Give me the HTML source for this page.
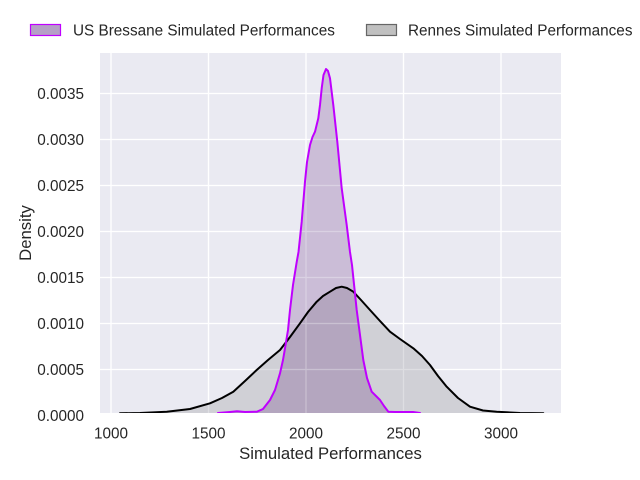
<!DOCTYPE html>
<html>
<head>
<meta charset="utf-8">
<style>
html,body{margin:0;padding:0;background:#ffffff;}
svg{display:block;}
text{font-family:"Liberation Sans",Arial,sans-serif;fill:#262626;}
</style>
</head>
<body>
<svg width="640" height="480" viewBox="0 0 640 480" xmlns="http://www.w3.org/2000/svg">
<defs>
<clipPath id="ax"><rect x="100" y="53" width="461" height="360"/></clipPath>
<clipPath id="grayclip">
<polygon points="120,413.3 140,413 166.7,411.7 190,409 210,403.3 222,398 233.3,391.7 245,381 256.7,370 268,360 280,350 290,337 300,323.3 308,312 316.7,301.7 323,296 330,291.7 336,288 341.7,286.7 347,288 353.3,291.7 361,300 370,310 380,321 390,331.7 400,339 413.3,348.3 422,356 430,365 438,376 446.7,386.7 458,398 470,406.7 483,410.5 496.7,411.7 520,413 543.3,413.3 543.3,413 120,413"/>
</clipPath>
</defs>
<!-- axes background -->
<rect x="100" y="53" width="461" height="360" fill="#eaeaf2"/>
<g clip-path="url(#ax)" stroke="#ffffff" stroke-width="1.3">
<line x1="111" y1="53" x2="111" y2="413"/>
<line x1="208.5" y1="53" x2="208.5" y2="413"/>
<line x1="306" y1="53" x2="306" y2="413"/>
<line x1="403.5" y1="53" x2="403.5" y2="413"/>
<line x1="501" y1="53" x2="501" y2="413"/>
<line x1="100" y1="369.5" x2="561" y2="369.5"/>
<line x1="100" y1="323.5" x2="561" y2="323.5"/>
<line x1="100" y1="277.5" x2="561" y2="277.5"/>
<line x1="100" y1="231.5" x2="561" y2="231.5"/>
<line x1="100" y1="185.5" x2="561" y2="185.5"/>
<line x1="100" y1="139.5" x2="561" y2="139.5"/>
<line x1="100" y1="93.5" x2="561" y2="93.5"/>
</g>
<g clip-path="url(#ax)">
<!-- Rennes fill -->
<polygon fill="#d0d0d6" points="120,413.3 140,413 166.7,411.7 190,409 210,403.3 222,398 233.3,391.7 245,381 256.7,370 268,360 280,350 290,337 300,323.3 308,312 316.7,301.7 323,296 330,291.7 336,288 341.7,286.7 347,288 353.3,291.7 361,300 370,310 380,321 390,331.7 400,339 413.3,348.3 422,356 430,365 438,376 446.7,386.7 458,398 470,406.7 483,410.5 496.7,411.7 520,413 543.3,413.3 543.3,413 120,413"/>
<!-- Bressane fill -->
<polygon id="pf" fill="#cbbdd7" points="218,413 230,412 237,411.3 245,412 257,411.7 263,409 270,400 275,390 280,373.3 283,360 285,348.3 288,330 290,310 293,285 296.7,262 298.5,252 301.7,221.7 305,181.7 307,162 310,145 312.5,137 315,131.7 318.3,118.3 320,105 321.7,88.3 323.5,75 326,69 328,71 330,78.3 333.3,105 337.3,141.7 341.7,188.3 346.7,225 350,252 352,265 356.7,310 360,335 363.3,360 367,378 371.7,391.7 376,396 380,400 384,406 388.3,411.7 395,412 405,412 413,412 420,413"/>
<g clip-path="url(#grayclip)">
<polygon fill="#b4a6bf" points="218,413 230,412 237,411.3 245,412 257,411.7 263,409 270,400 275,390 280,373.3 283,360 285,348.3 288,330 290,310 293,285 296.7,262 298.5,252 301.7,221.7 305,181.7 307,162 310,145 312.5,137 315,131.7 318.3,118.3 320,105 321.7,88.3 323.5,75 326,69 328,71 330,78.3 333.3,105 337.3,141.7 341.7,188.3 346.7,225 350,252 352,265 356.7,310 360,335 363.3,360 367,378 371.7,391.7 376,396 380,400 384,406 388.3,411.7 395,412 405,412 413,412 420,413"/>
</g>
<!-- faint grid through fills -->
<g stroke="#ffffff" stroke-width="1.2" opacity="0.3">
<line x1="111" y1="53" x2="111" y2="413"/>
<line x1="208.5" y1="53" x2="208.5" y2="413"/>
<line x1="306" y1="53" x2="306" y2="413"/>
<line x1="403.5" y1="53" x2="403.5" y2="413"/>
<line x1="501" y1="53" x2="501" y2="413"/>
<line x1="100" y1="369.5" x2="561" y2="369.5"/>
<line x1="100" y1="323.5" x2="561" y2="323.5"/>
<line x1="100" y1="277.5" x2="561" y2="277.5"/>
<line x1="100" y1="231.5" x2="561" y2="231.5"/>
<line x1="100" y1="185.5" x2="561" y2="185.5"/>
<line x1="100" y1="139.5" x2="561" y2="139.5"/>
<line x1="100" y1="93.5" x2="561" y2="93.5"/>
</g>
<!-- lines -->
<polyline fill="none" stroke="#000000" stroke-width="2" stroke-linejoin="round" stroke-linecap="round" points="120,413.3 140,413 166.7,411.7 190,409 210,403.3 222,398 233.3,391.7 245,381 256.7,370 268,360 280,350 290,337 300,323.3 308,312 316.7,301.7 323,296 330,291.7 336,288 341.7,286.7 347,288 353.3,291.7 361,300 370,310 380,321 390,331.7 400,339 413.3,348.3 422,356 430,365 438,376 446.7,386.7 458,398 470,406.7 483,410.5 496.7,411.7 520,413 543.3,413.3"/>
<polyline fill="none" stroke="#bf00ff" stroke-width="2" stroke-linejoin="round" stroke-linecap="round" points="218,413 230,412 237,411.3 245,412 257,411.7 263,409 270,400 275,390 280,373.3 283,360 285,348.3 288,330 290,310 293,285 296.7,262 298.5,252 301.7,221.7 305,181.7 307,162 310,145 312.5,137 315,131.7 318.3,118.3 320,105 321.7,88.3 323.5,75 326,69 328,71 330,78.3 333.3,105 337.3,141.7 341.7,188.3 346.7,225 350,252 352,265 356.7,310 360,335 363.3,360 367,378 371.7,391.7 376,396 380,400 384,406 388.3,411.7 395,412 405,412 413,412 420,413"/>
</g>
<!-- y tick labels -->
<g font-size="15.3" text-anchor="end">
<text x="84" y="421">0.0000</text>
<text x="84" y="375">0.0005</text>
<text x="84" y="329">0.0010</text>
<text x="84" y="283">0.0015</text>
<text x="84" y="237">0.0020</text>
<text x="84" y="191">0.0025</text>
<text x="84" y="145">0.0030</text>
<text x="84" y="99">0.0035</text>
</g>
<!-- x tick labels -->
<g font-size="15.3" text-anchor="middle">
<text x="111" y="438.5">1000</text>
<text x="208.5" y="438.5">1500</text>
<text x="306" y="438.5">2000</text>
<text x="403.5" y="438.5">2500</text>
<text x="501" y="438.5">3000</text>
</g>
<text x="330.5" y="459" font-size="16.7" text-anchor="middle">Simulated Performances</text>
<text x="0" y="0" font-size="16.7" text-anchor="middle" transform="translate(31,233) rotate(-90)">Density</text>
<!-- legend -->
<rect x="30.5" y="24.5" width="30" height="11" fill="#b5a0c6" stroke="#bf00ff" stroke-width="1.2"/>
<text x="73" y="35.5" font-size="15.3">US Bressane Simulated Performances</text>
<rect x="366.5" y="24.5" width="30" height="11" fill="#c0c0c0" stroke="#666666" stroke-width="1.2"/>
<text x="408" y="35.5" font-size="15.3">Rennes Simulated Performances</text>
</svg>
</body>
</html>
